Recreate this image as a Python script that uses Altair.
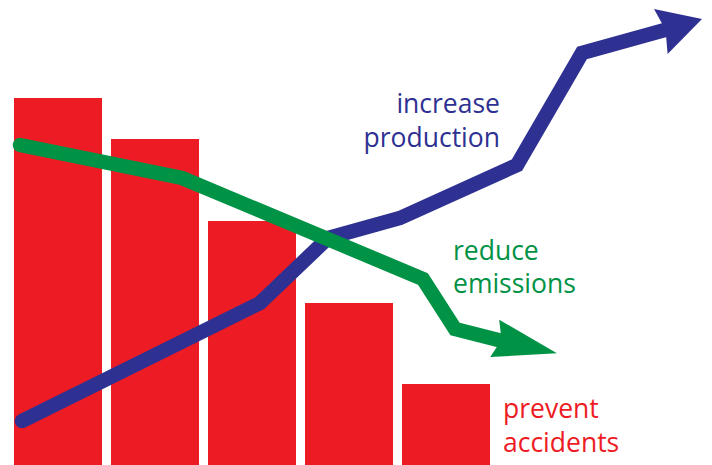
import altair as alt
import pandas as pd

RED = "#ED1C24"
BLUE = "#2E3192"
GREEN = "#009245"

# Bars (horizontal span and height, in chart units)
bar_start = [6, 103, 200, 297, 394]
bar_end = [94, 191, 288, 385, 482]
bar_value = [367, 326, 244, 162, 81]

# "increase production" trend line
prod_x = [14, 252, 320, 392, 509, 574, 664]
prod_y = [44, 162, 227, 247, 300, 412, 437]
prod_head = (671.5, 439.2, 343.2)  # x, y, heading angle

# "reduce emissions" trend line
emis_x = [12, 174, 415, 447, 502]
emis_y = [320, 287, 186, 136, 122]
emis_head = (517.8, 119.2, 13.5)

# Labels
label_text = ["increase", "production", "reduce", "emissions", "prevent", "accidents"]
label_x = [492, 492, 445, 445, 495, 495]
label_y = [352, 318, 205, 172, 47, 13]
label_color = [BLUE, BLUE, GREEN, GREEN, RED, RED]
label_align = ["right", "right", "left", "left", "left", "left"]

W, H = 696, 457
xs = alt.Scale(domain=[0, W], nice=False, zero=False)
ys = alt.Scale(domain=[0, H], nice=False, zero=False)

bars_df = pd.DataFrame({"x": bar_start, "x2": bar_end, "y": bar_value, "y0": [0] * 5})
bars = alt.Chart(bars_df).mark_rect(color=RED).encode(
    x=alt.X("x:Q", scale=xs, axis=None),
    x2="x2:Q",
    y=alt.Y("y:Q", scale=ys, axis=None),
    y2="y0:Q",
)

def trend(xv, yv, color, head, path, size):
    df = pd.DataFrame({"x": xv, "y": yv, "i": list(range(len(xv)))})
    line = alt.Chart(df).mark_line(
        color=color, strokeWidth=14.5, strokeCap="round", strokeJoin="miter"
    ).encode(
        x=alt.X("x:Q", scale=xs, axis=None),
        y=alt.Y("y:Q", scale=ys, axis=None),
        order="i:O",
    )
    hdf = pd.DataFrame({"x": [head[0]], "y": [head[1]], "a": [head[2]]})
    arrow = alt.Chart(hdf).mark_point(
        shape=path, filled=True, color=color, opacity=1, strokeWidth=0
    ).encode(
        x=alt.X("x:Q", scale=xs, axis=None),
        y=alt.Y("y:Q", scale=ys, axis=None),
        angle=alt.Angle("a:Q", scale=None),
        size=alt.value(size),
    )
    return line + arrow

prod = trend(prod_x, prod_y, BLUE, prod_head, "M1,0 L-0.83,-1 L-0.62,0 L-0.83,1 Z", 47 * 47)
emis = trend(emis_x, emis_y, GREEN, emis_head, "M1,0 L-1,-0.6 L-0.78,0 L-1,0.6 Z", 64 * 64)

layers = [bars, prod, emis]
for align in ["left", "right"]:
    idx = [k for k in range(len(label_text)) if label_align[k] == align]
    ldf = pd.DataFrame({
        "t": [label_text[k] for k in idx],
        "x": [label_x[k] for k in idx],
        "y": [label_y[k] for k in idx],
        "c": [label_color[k] for k in idx],
    })
    layers.append(
        alt.Chart(ldf).mark_text(
            align=align, baseline="alphabetic", font="Open Sans", fontSize=26.5
        ).encode(
            x=alt.X("x:Q", scale=xs, axis=None),
            y=alt.Y("y:Q", scale=ys, axis=None),
            text="t:N",
            color=alt.Color("c:N", scale=None),
        )
    )

chart = alt.layer(*layers).properties(
    width=W, height=H, padding=0, background="white",
    autosize=alt.AutoSizeParams(type="none"),
).configure_view(strokeWidth=0)

chart.save("out.html", embed_options={"renderer": "svg", "actions": False})
